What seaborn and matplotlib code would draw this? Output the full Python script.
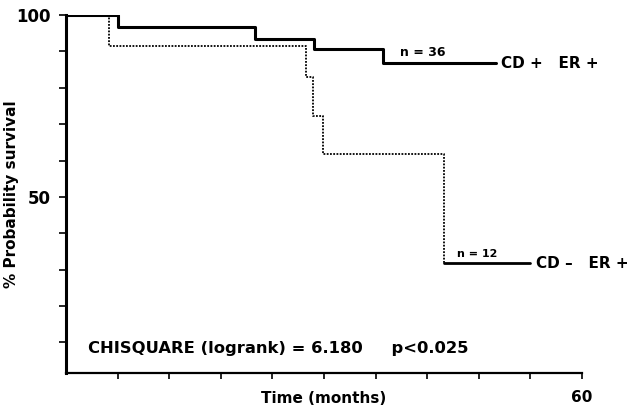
import numpy as np
import pandas as pd
import seaborn as sns
import matplotlib
matplotlib.use("Agg")
import matplotlib.pyplot as plt

# | Data |-------------------------------------------------------------------------------------------------------------|
pos_months = [0, 6, 22, 28.8, 36.9, 50]
pos_survival = [100, 96.8, 93.4, 90.7, 86.8, 86.8]

neg_months = [0, 5, 27.9, 28.7, 29.9, 44, 54]
neg_survival = [100, 91.5, 83.0, 72.2, 61.8, 31.8, 31.8]

group_labels = ["CD +   ER +", "CD \u2013   ER +"]
n_labels = ["n = 36", "n = 12"]
x_ticks = [6, 12, 18, 24, 30, 36, 42, 48, 54, 60]
x_tick_labels = ["", "", "", "", "", "", "", "", "", "60"]
y_ticks = [10, 20, 30, 40, 50, 60, 70, 80, 90, 100]
y_tick_labels = ["", "", "", "", "50", "", "", "", "", "100"]
stats_text = "CHISQUARE (logrank) = 6.180     p<0.025"
# |--------------------------------------------------------------------------------------------------------------------|

pos_df = pd.DataFrame({"months": pos_months, "survival": pos_survival})
neg_df = pd.DataFrame({"months": neg_months, "survival": neg_survival})

sns.set_theme(style="ticks")
plt.rcParams["font.family"] = ["DejaVu Sans"]
plt.rcParams["font.weight"] = "bold"
plt.rcParams["text.color"] = "black"
plt.rcParams["axes.labelcolor"] = "black"
plt.rcParams["xtick.color"] = "black"
plt.rcParams["ytick.color"] = "black"
plt.rcParams["axes.edgecolor"] = "black"

fig = plt.figure(figsize=(6.38, 4.07), dpi=100)
ax = fig.add_axes([66 / 638, 1 - 373 / 407, 516 / 638, 358 / 407])

# dotted curve up to the last drop, then the solid tail
sns.lineplot(data=neg_df.iloc[:-1], x="months", y="survival", ax=ax, color="black",
             lw=1.3, linestyle=(0, (1, 0.8)), drawstyle="steps-post", sort=False)
sns.lineplot(data=neg_df.iloc[-2:], x="months", y="survival", ax=ax, color="black",
             lw=2.0, drawstyle="steps-post", sort=False)
sns.lineplot(data=pos_df, x="months", y="survival", ax=ax, color="black",
             lw=2.2, drawstyle="steps-post", sort=False)

ax.set_xlim(0, 60)
ax.set_ylim(1.6, 100)
ax.set_xticks(x_ticks)
ax.set_xticklabels(x_tick_labels, fontsize=11, fontweight="bold")
ax.set_yticks(y_ticks)
ax.set_yticklabels(y_tick_labels, fontsize=12, fontweight="bold")
ax.tick_params(axis="x", length=4, width=1.2, pad=8)
ax.tick_params(axis="y", length=5, width=1.2, pad=6)

sns.despine(ax=ax)
ax.spines["left"].set_linewidth(2.2)
ax.spines["bottom"].set_linewidth(1.6)

ax.set_xlabel("Time (months)", fontsize=11, fontweight="bold")
ax.xaxis.set_label_coords(0.5, -0.05)
ax.set_ylabel("% Probability survival", fontsize=11, fontweight="bold")
ax.yaxis.set_label_coords(-0.092, 0.5)

ax.text(pos_months[-1] + 0.6, pos_survival[-1], group_labels[0], fontsize=11,
        fontweight="bold", ha="left", va="center")
ax.text(neg_months[-1] + 0.6, neg_survival[-1], group_labels[1], fontsize=11,
        fontweight="bold", ha="left", va="center")
ax.text(38.8, pos_survival[-1] + 1.0, n_labels[0], fontsize=9, fontweight="bold",
        ha="left", va="bottom")
ax.text(45.5, neg_survival[-1] + 1.0, n_labels[1], fontsize=8, fontweight="bold",
        ha="left", va="bottom")
ax.text(2.5, 8.3, stats_text, fontsize=11.8, fontweight="bold", ha="left", va="center")

fig.savefig("out.png", dpi=100)
